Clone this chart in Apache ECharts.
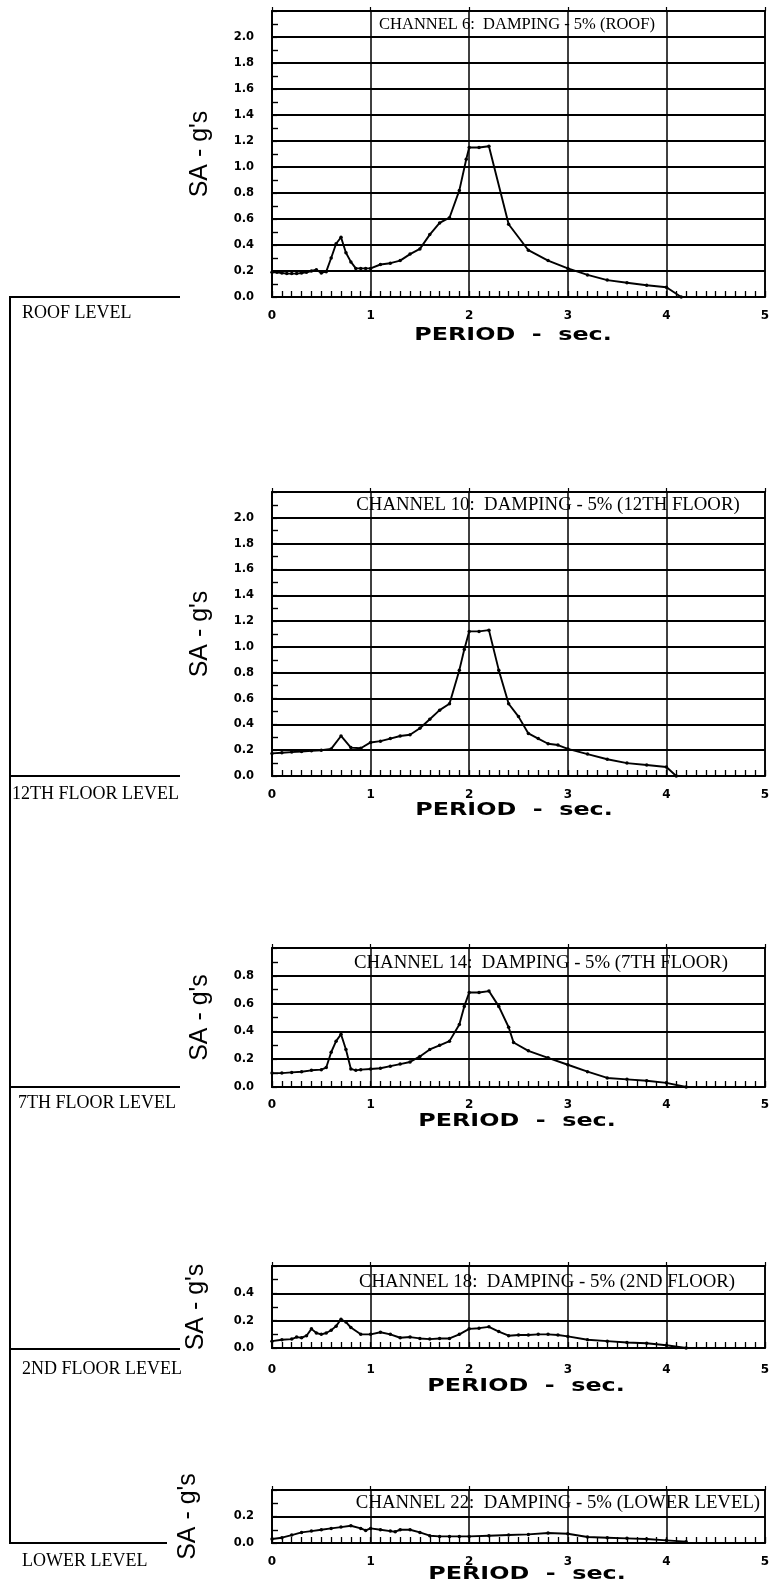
<!DOCTYPE html>
<html><head><meta charset="utf-8">
<script src="https://cdn.jsdelivr.net/npm/echarts@6/dist/echarts.min.js"></script>
<style>html,body{margin:0;padding:0;background:#fff}#c{width:783px;height:1584px}</style>
</head><body><div id="c"></div>
<script>
// ---------- DATA ----------
const xTickLabels = ['0', '1', '2', '3', '4', '5'];

const ch6Period = [0, 0.05, 0.1, 0.15, 0.2, 0.25, 0.3, 0.35, 0.4, 0.45, 0.5, 0.55, 0.6, 0.65, 0.7, 0.75, 0.8, 0.85, 0.9, 0.95, 1.0, 1.1, 1.2, 1.3, 1.4, 1.5, 1.6, 1.7, 1.8, 1.9, 1.97, 2.0, 2.1, 2.2, 2.4, 2.6, 2.8, 3.0, 3.2, 3.4, 3.6, 3.8, 4.0, 4.15];
const ch6SA = [0.19, 0.19, 0.185, 0.18, 0.18, 0.18, 0.185, 0.19, 0.20, 0.21, 0.185, 0.195, 0.30, 0.41, 0.46, 0.34, 0.27, 0.22, 0.22, 0.22, 0.22, 0.25, 0.26, 0.28, 0.33, 0.37, 0.48, 0.57, 0.61, 0.82, 1.06, 1.15, 1.15, 1.16, 0.56, 0.36, 0.28, 0.22, 0.17, 0.13, 0.11, 0.09, 0.075, 0.0];

const ch10Period = [0, 0.1, 0.2, 0.3, 0.4, 0.5, 0.6, 0.7, 0.8, 0.9, 1.0, 1.1, 1.2, 1.3, 1.4, 1.5, 1.6, 1.7, 1.8, 1.9, 1.95, 2.0, 2.1, 2.2, 2.3, 2.4, 2.5, 2.6, 2.7, 2.8, 2.9, 3.0, 3.2, 3.4, 3.6, 3.8, 4.0, 4.1];
const ch10SA = [0.175, 0.18, 0.185, 0.19, 0.195, 0.2, 0.21, 0.31, 0.22, 0.215, 0.26, 0.27, 0.29, 0.31, 0.32, 0.37, 0.44, 0.51, 0.56, 0.82, 0.98, 1.12, 1.12, 1.13, 0.82, 0.56, 0.46, 0.33, 0.29, 0.25, 0.24, 0.21, 0.17, 0.13, 0.10, 0.085, 0.07, 0.0];

const ch14Period = [0, 0.1, 0.2, 0.3, 0.4, 0.5, 0.55, 0.6, 0.65, 0.7, 0.75, 0.8, 0.85, 0.9, 1.0, 1.1, 1.2, 1.3, 1.4, 1.5, 1.6, 1.7, 1.8, 1.9, 1.95, 2.0, 2.1, 2.2, 2.3, 2.4, 2.45, 2.6, 2.8, 3.0, 3.2, 3.4, 3.6, 3.8, 4.0, 4.2];
const ch14SA = [0.10, 0.10, 0.105, 0.11, 0.12, 0.125, 0.14, 0.25, 0.33, 0.38, 0.27, 0.13, 0.12, 0.125, 0.13, 0.135, 0.15, 0.165, 0.18, 0.22, 0.27, 0.30, 0.33, 0.45, 0.58, 0.68, 0.68, 0.69, 0.58, 0.43, 0.32, 0.26, 0.21, 0.16, 0.11, 0.065, 0.055, 0.045, 0.03, 0.0];

const ch18Period = [0, 0.1, 0.2, 0.25, 0.3, 0.35, 0.4, 0.45, 0.5, 0.55, 0.6, 0.65, 0.7, 0.75, 0.8, 0.9, 1.0, 1.1, 1.2, 1.3, 1.4, 1.5, 1.6, 1.7, 1.8, 1.9, 2.0, 2.1, 2.2, 2.3, 2.4, 2.5, 2.6, 2.7, 2.8, 2.9, 3.0, 3.2, 3.4, 3.6, 3.8, 4.0, 4.2];
const ch18SA = [0.05, 0.06, 0.065, 0.08, 0.075, 0.09, 0.14, 0.11, 0.10, 0.11, 0.13, 0.16, 0.21, 0.19, 0.15, 0.10, 0.10, 0.115, 0.10, 0.075, 0.08, 0.07, 0.065, 0.07, 0.07, 0.10, 0.14, 0.145, 0.155, 0.12, 0.09, 0.095, 0.095, 0.10, 0.10, 0.095, 0.085, 0.06, 0.05, 0.04, 0.035, 0.02, 0.0];

const ch22Period = [0, 0.1, 0.2, 0.3, 0.4, 0.5, 0.6, 0.7, 0.8, 0.9, 0.95, 1.0, 1.1, 1.2, 1.25, 1.3, 1.4, 1.5, 1.6, 1.7, 1.8, 1.9, 2.0, 2.2, 2.4, 2.6, 2.8, 3.0, 3.2, 3.4, 3.6, 3.8, 4.0, 4.2];
const ch22SA = [0.03, 0.04, 0.06, 0.08, 0.09, 0.10, 0.11, 0.12, 0.13, 0.11, 0.095, 0.11, 0.10, 0.09, 0.085, 0.10, 0.10, 0.08, 0.055, 0.05, 0.05, 0.05, 0.05, 0.055, 0.06, 0.065, 0.075, 0.07, 0.045, 0.04, 0.035, 0.03, 0.02, 0.01];

const panelTitles = [
  'CHANNEL 6:  DAMPING - 5% (ROOF)',
  'CHANNEL 10:  DAMPING - 5% (12TH FLOOR)',
  'CHANNEL 14:  DAMPING - 5% (7TH FLOOR)',
  'CHANNEL 18:  DAMPING - 5% (2ND FLOOR)',
  'CHANNEL 22:  DAMPING - 5% (LOWER LEVEL)'
];
const levelLabels = ['ROOF LEVEL', '12TH FLOOR LEVEL', '7TH FLOOR LEVEL', '2ND FLOOR LEVEL', 'LOWER LEVEL'];
const yAxisName = "SA - g's";
const xAxisName = 'PERIOD  -  sec.';
const yMaxValues = [2.2, 2.2, 1.0, 0.6, 0.4];

// ---------- LAYOUT ----------
const panels = [
  { top: 11,   height: 286, titleX: 517, titleY: 25,   titleSize: 16.5, xLabelMargin: 13, nameGap: 59, periodX: 513, periodY: 336, levelY: 297,  levelX2: 180, labelX: 22, labelY: 313 },
  { top: 492,  height: 284, titleX: 548, titleY: 505,  titleSize: 18.8, xLabelMargin: 13, nameGap: 59, periodX: 514, periodY: 811, levelY: 776,  levelX2: 180, labelX: 12, labelY: 794 },
  { top: 948,  height: 139, titleX: 541, titleY: 963,  titleSize: 18.8, xLabelMargin: 12, nameGap: 59, periodX: 517, periodY: 1122, levelY: 1087, levelX2: 180, labelX: 18, labelY: 1103 },
  { top: 1266, height: 82,  titleX: 547, titleY: 1282, titleSize: 18.8, xLabelMargin: 16, nameGap: 63, periodX: 526, periodY: 1387, levelY: 1349, levelX2: 180, labelX: 22, labelY: 1369 },
  { top: 1490, height: 53,  titleX: 558, titleY: 1503, titleSize: 18.8, xLabelMargin: 13, nameGap: 71, periodX: 527, periodY: 1575, levelY: 1543, levelX2: 167, labelX: 22, labelY: 1561 }
];
const seriesPeriods = [ch6Period, ch10Period, ch14Period, ch18Period, ch22Period];
const seriesSA = [ch6SA, ch10SA, ch14SA, ch18SA, ch22SA];

const black = '#000';
const grids = [], xAxes = [], yAxes = [], series = [], titles = [], graphics = [];

panels.forEach((p, i) => {
  grids.push({ left: 272, right: 18, top: p.top, height: p.height, show: true, borderColor: black, borderWidth: 1.6, backgroundColor: 'transparent' });
  xAxes.push({
    type: 'value', gridIndex: i, min: 0, max: 5, interval: 1, position: 'bottom',
    axisLine: { show: true, onZero: false, lineStyle: { color: black, width: 1.8 } },
    axisTick: { show: true, inside: true, length: 6, lineStyle: { color: black, width: 1.3 } },
    minorTick: { show: true, splitNumber: 10, length: 6, lineStyle: { color: black, width: 1.3 } },
    splitLine: { show: true, lineStyle: { color: black, width: 1.5 } },
    axisLabel: { show: true, margin: p.xLabelMargin, color: black, fontFamily: 'DejaVu Sans', fontWeight: 'bold', fontSize: 12,
      formatter: v => xTickLabels[Math.round(v)] }
  });
  const ymax = yMaxValues[i];
  yAxes.push({
    type: 'value', gridIndex: i, min: 0, max: ymax, interval: 0.2,
    name: yAxisName, nameLocation: 'middle', nameGap: p.nameGap, nameRotate: 90,
    nameTextStyle: { fontFamily: 'Liberation Sans', fontSize: 25, color: black },
    axisLine: { show: true, lineStyle: { color: black, width: 1.8 } },
    axisTick: { show: true, inside: true, length: 5, lineStyle: { color: black, width: 1.2 } },
    minorTick: { show: true, splitNumber: 2, length: 6, lineStyle: { color: black, width: 1.4 } },
    splitLine: { show: true, lineStyle: { color: black, width: 1.8 } },
    axisLabel: { margin: 18, color: black, fontFamily: 'DejaVu Sans', fontWeight: 'bold', fontSize: 11.5,
      formatter: v => (Math.abs(v - ymax) < 1e-6 ? '' : v.toFixed(1)) }
  });
  series.push({
    type: 'line', xAxisIndex: i, yAxisIndex: i,
    data: seriesPeriods[i].map((x, k) => [x, seriesSA[i][k]]),
    symbol: 'circle', symbolSize: 3.5, showAllSymbol: true,
    lineStyle: { color: black, width: 1.9 }, itemStyle: { color: black },
    animation: false, z: 5
  });
  titles.push({
    text: panelTitles[i], left: p.titleX, top: p.titleY, padding: 0, textAlign: 'center', textVerticalAlign: 'middle',
    textStyle: { fontFamily: 'Liberation Serif', fontWeight: 'normal', fontSize: p.titleSize, color: black }
  });
  graphics.push({
    type: 'text', x: p.periodX, y: p.periodY, scaleX: 1.4,
    style: { text: xAxisName, fill: black, font: 'bold 17px "DejaVu Sans"', textAlign: 'center', textVerticalAlign: 'middle' }
  });
  graphics.push({ type: 'line', shape: { x1: 10, y1: p.levelY, x2: p.levelX2, y2: p.levelY }, style: { stroke: black, lineWidth: 2 } });
  graphics.push({
    type: 'text', x: p.labelX, y: p.labelY,
    style: { text: levelLabels[i], fill: black, font: '18px "Liberation Serif"', textAlign: 'left', textVerticalAlign: 'middle' }
  });
});
// top axes (tick marks above frame)
panels.forEach((p, i) => {
  xAxes.push({
    type: 'value', gridIndex: i, min: 0, max: 5, interval: 1, position: 'top',
    axisLine: { show: true, onZero: false, lineStyle: { color: black, width: 1.6 } },
    axisTick: { show: true, inside: false, length: 4, lineStyle: { color: black, width: 1.2 } },
    axisLabel: { show: false }, splitLine: { show: false }
  });
});
// vertical building line
graphics.push({ type: 'line', shape: { x1: 10, y1: panels[0].levelY - 1, x2: 10, y2: panels[4].levelY + 1 }, style: { stroke: black, lineWidth: 2 } });

const chart = echarts.init(document.getElementById('c'), null, { renderer: 'canvas' });
chart.setOption({
  backgroundColor: '#fff',
  animation: false,
  title: titles,
  grid: grids,
  xAxis: xAxes,
  yAxis: yAxes,
  series: series,
  graphic: graphics
});
</script>
</body></html>
